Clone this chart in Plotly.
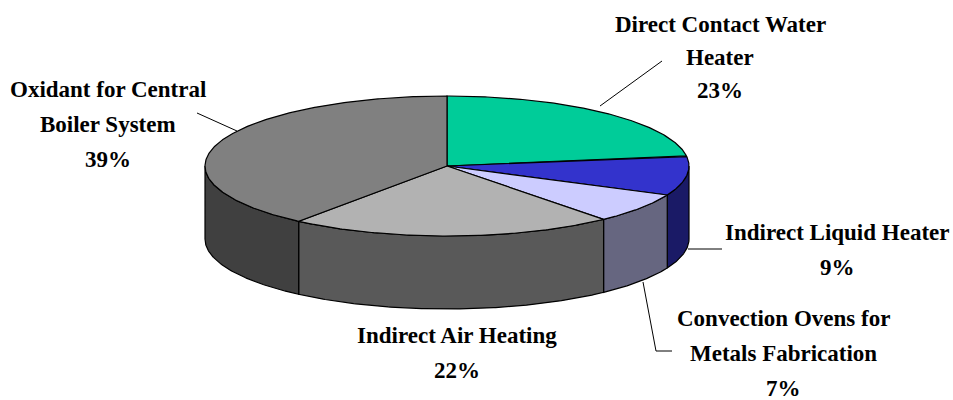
import numpy as np
import plotly.graph_objects as go

categories = ["Direct Contact Water<br>Heater", "Indirect Liquid Heater", "Convection Ovens for<br>Metals Fabrication",
              "Indirect Air Heating", "Oxidant for Central<br>Boiler System"]
slice_values = [22.7, 9.1, 7.0, 21.7, 39.5]
percent_labels = ["23%", "9%", "7%", "22%", "39%"]
top_colors = ["#00CC99", "#3333CC", "#CCCCFF", "#B2B2B2", "#808080"]
wall_colors = ["#006650", "#1A1A66", "#666680", "#595959", "#404040"]

W, H = 953, 400
CX, CY, RX, RY, DEPTH = 447, 166, 242, 70, 73
TOTAL = sum(slice_values)
LINE = dict(color="black", width=1.2)


def rim(a0, a1):
    t = np.radians(np.linspace(a0, a1, max(3, int(abs(a1 - a0) * 2))))
    return CX + RX * np.sin(t), CY - RY * np.cos(t)


fig = go.Figure()
edges = np.cumsum([0] + slice_values) / TOTAL * 360

# side walls (only the front half of the disc is visible)
for i in range(len(slice_values)):
    a0, a1 = max(edges[i], 90), min(edges[i + 1], 270)
    if a1 <= a0:
        continue
    x, y = rim(a0, a1)
    fig.add_trace(go.Scatter(x=np.r_[x, x[::-1], x[0]], y=np.r_[y, y[::-1] + DEPTH, y[0]],
                             mode="lines", fill="toself", fillcolor=wall_colors[i], line=LINE,
                             hoverinfo="skip", showlegend=False))

# top face
for i in range(len(slice_values)):
    x, y = rim(edges[i], edges[i + 1])
    fig.add_trace(go.Scatter(x=np.r_[CX, x, CX], y=np.r_[CY, y, CY],
                             mode="lines", fill="toself", fillcolor=top_colors[i], line=LINE,
                             name=categories[i].replace("<br>", " "), hoverinfo="name", showlegend=False))

# leader lines
leaders = [([600, 662], [106, 61]), ([688, 722], [249, 249]), ([643, 656, 672], [282, 351, 351]),
           ([237, 197], [131, 113])]
for lx, ly in leaders:
    fig.add_trace(go.Scatter(x=lx, y=ly, mode="lines", line=dict(color="black", width=1),
                             hoverinfo="skip", showlegend=False))

# labels: each line placed individually for the source's wide line spacing
label_pos = [(720, 24, 33), (837, 232, 35), (783, 318, 35), (457, 335, 35), (108, 89, 35)]
for i, (lx, ly, step) in enumerate(label_pos):
    lines = categories[i].split("<br>") + [percent_labels[i]]
    for k, txt in enumerate(lines):
        fig.add_annotation(x=lx, y=ly + k * step, xref="x", yref="y", showarrow=False,
                           text=f"<b>{txt}</b>", align="center",
                           font=dict(family="Liberation Serif", size=23, color="black"))

fig.update_layout(width=W, height=H, margin=dict(l=0, r=0, t=0, b=0),
                  paper_bgcolor="white", plot_bgcolor="white",
                  xaxis=dict(range=[0, W], visible=False, fixedrange=True),
                  yaxis=dict(range=[H, 0], visible=False, fixedrange=True))
fig.write_html("out.html", config=dict(displayModeBar=False),
               post_script="document.body.style.margin='0';document.body.style.overflow='hidden';")
